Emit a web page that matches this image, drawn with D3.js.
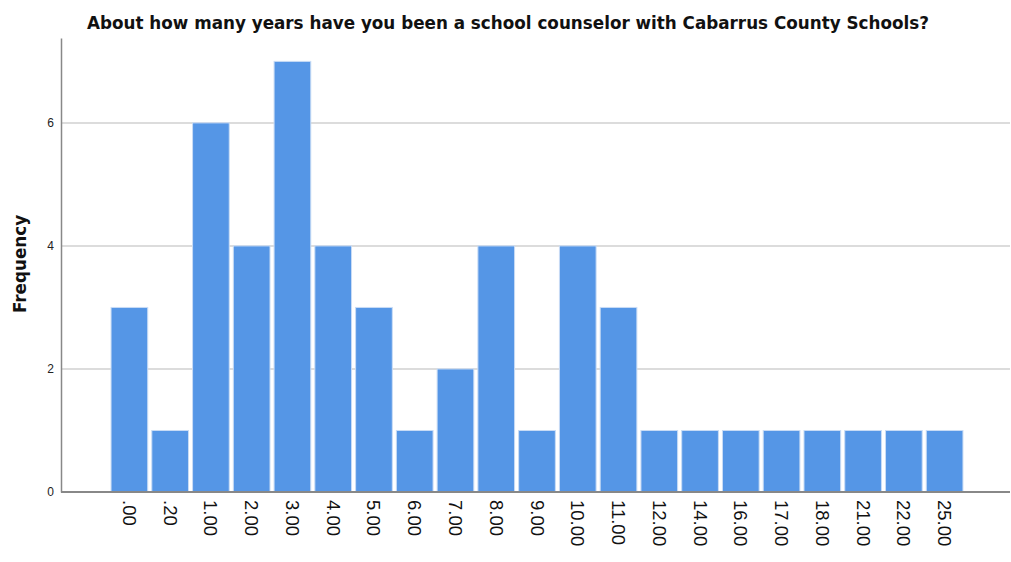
<!DOCTYPE html>
<html>
<head>
<meta charset="utf-8">
<script src="https://d3js.org/d3.v7.min.js"></script>
<style>
  body { margin: 0; background: #fff; }
  svg { display: block; font-family: "DejaVu Sans", sans-serif; }
</style>
</head>
<body>
<div id="chart"></div>
<script>
// data
var categories = ['.00', '.20', '1.00', '2.00', '3.00', '4.00', '5.00', '6.00', '7.00', '8.00', '9.00',
    '10.00', '11.00', '12.00', '14.00', '16.00', '17.00', '18.00', '21.00', '22.00', '25.00'];
var frequency = [3, 1, 6, 4, 7, 4, 3, 1, 2, 4, 1, 4, 3, 1, 1, 1, 1, 1, 1, 1, 1];
var yTicks = [0, 2, 4, 6];

var width = 1011;
var height = 562;
var title = 'About how many years have you been a school counselor with Cabarrus County Schools?';

var svg = d3.select('#chart').append('svg')
    .attr('width', width)
    .attr('height', height);

var x = d3.scaleBand()
    .domain(categories)
    .range([109, 965])
    .paddingInner(0.1)
    .paddingOuter(0.05);

var y = d3.scaleLinear()
    .domain([0, 7.38])
    .range([492, 38]);

// gridlines
svg.append('g')
    .selectAll('line')
    .data(yTicks.filter(function(d) { return d > 0; }))
    .enter().append('line')
        .attr('x1', 61)
        .attr('x2', 1010)
        .attr('y1', function(d) { return y(d); })
        .attr('y2', function(d) { return y(d); })
        .style('stroke', '#d0d0d0')
        .style('stroke-width', 1.5);

// bars
svg.append('g')
    .selectAll('rect')
    .data(frequency)
    .enter().append('rect')
        .attr('x', function(d, i) { return x(categories[i]); })
        .attr('y', function(d) { return y(d); })
        .attr('width', x.bandwidth())
        .attr('height', function(d) { return y(0) - y(d); })
        .style('fill', '#5596e6')
        .style('stroke', '#c9dcf5')
        .style('stroke-width', 1);

// y axis
var yAxis = svg.append('g')
    .attr('transform', 'translate(61,0)')
    .call(d3.axisLeft(y).tickValues(yTicks).tickSize(0).tickPadding(7));
yAxis.select('.domain').style('stroke', '#888').style('stroke-width', 1.5);
yAxis.selectAll('text')
    .style('font-size', '12px')
    .style('fill', '#222');

// x axis
var xAxis = svg.append('g')
    .attr('transform', 'translate(0,492)')
    .call(d3.axisBottom(x).tickSize(0));
xAxis.select('.domain').remove();
xAxis.append('line')
    .attr('x1', 61)
    .attr('x2', 1010)
    .style('stroke', '#888')
    .style('stroke-width', 2);
xAxis.selectAll('.tick text')
    .attr('transform', 'rotate(90)')
    .attr('x', 8)
    .attr('y', 0)
    .attr('dy', '0.35em')
    .style('text-anchor', 'start')
    .style('font-size', '18.5px')
    .style('fill', '#111');

// title
svg.append('text')
    .attr('x', 508)
    .attr('y', 29)
    .attr('text-anchor', 'middle')
    .style('font-size', '16.8px')
    .style('font-weight', 'bold')
    .style('fill', '#111')
    .text(title);

// y label
svg.append('text')
    .attr('transform', 'translate(26,264) rotate(-90)')
    .attr('text-anchor', 'middle')
    .style('font-size', '16.8px')
    .style('font-weight', 'bold')
    .style('fill', '#111')
    .text('Frequency');
</script>
</body>
</html>
